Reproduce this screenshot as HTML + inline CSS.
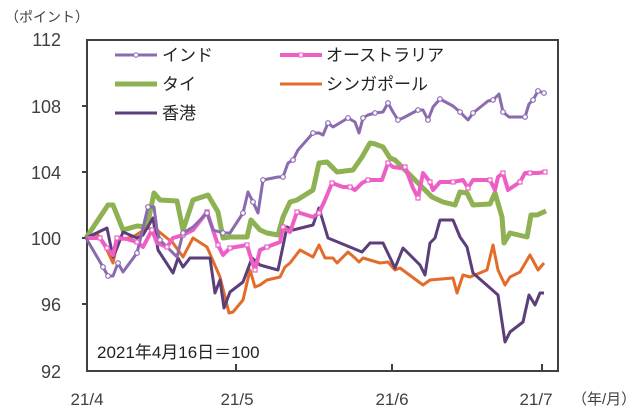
<!DOCTYPE html>
<html><head><meta charset="utf-8"><style>body{margin:0;background:#fff}</style></head><body>
<svg width="640" height="414" xmlns="http://www.w3.org/2000/svg" font-family="Liberation Sans, Noto Sans CJK JP, sans-serif" fill="#404040">
<rect x="0" y="0" width="640" height="414" fill="#fff"/>
<text x="5" y="22" font-size="14">（ポイント）</text>
<g font-size="18" text-anchor="end">
<text x="61" y="46">112</text><text x="61" y="113">108</text><text x="61" y="179">104</text><text x="61" y="245">100</text><text x="61" y="311">96</text><text x="61" y="378">92</text>
</g>
<g font-size="17" text-anchor="middle">
<text x="87" y="405">21/4</text><text x="237" y="405">21/5</text><text x="392" y="405">21/6</text><text x="536" y="405">21/7</text>
</g>
<text x="572" y="404" font-size="15">（年/月）</text>
<g stroke="#404040" stroke-width="2">
<rect x="87" y="40" width="471" height="331" fill="none"/>
<line x1="87" y1="106" x2="82" y2="106"/><line x1="87" y1="172" x2="82" y2="172"/><line x1="87" y1="238" x2="82" y2="238"/><line x1="87" y1="304" x2="82" y2="304"/>
<line x1="236" y1="371" x2="236" y2="364"/><line x1="392" y1="371" x2="392" y2="364"/><line x1="542" y1="371" x2="542" y2="364"/>
</g>
<text x="97" y="358" font-size="17" fill="#222">2021年4月16日＝100</text>
<g fill="none" stroke-linejoin="round">
<polyline stroke="#8EB153" stroke-width="5" points="86,238 108,205 113,205 123,230 137,226 147,227 154,193 160,200 177,201 183,230 193,200 208,195 218,212 223,238 230,237 247,237 251,220 260,230 267,233 278,235 283,217 290,202 297,200 313,190 319,163 327,162 337,172 353,170 362,157 370,143 375,144 383,147 390,158 395,160 420,185 432,197 443,202 455,205 460,192 467,193 473,205 490,204 495,193 502,217 504,243 510,233 527,237 531,215 537,215 546,211"/>
<polyline stroke="#E36C2A" stroke-width="3" points="86,238 98,235 107,250 113,263 118,240 133,237 147,228 157,230 173,243 183,257 193,238 207,247 220,277 229,313 233,312 243,300 250,270 255,287 260,285 267,280 280,277 285,267 290,263 300,250 313,257 319,245 325,258 333,258 337,263 348,252 355,258 359,262 363,258 380,263 388,262 395,270 400,268 423,285 430,280 453,278 457,293 463,275 470,277 487,270 493,245 498,270 505,285 510,277 520,272 530,255 538,270 544,263"/>
<polyline stroke="#5B3E7A" stroke-width="3" points="86,238 107,228 113,257 117,248 123,232 137,238 143,235 153,218 158,250 173,273 178,258 183,267 190,258 210,258 215,293 220,280 224,308 230,292 243,282 252,258 260,265 267,267 278,270 287,227 293,230 313,225 319,208 328,238 362,252 370,243 383,243 395,268 403,248 420,265 425,275 430,243 435,238 440,220 453,220 460,237 467,247 473,273 498,295 505,342 510,332 523,322 529,295 535,305 540,293 544,293"/>
<polyline id="au" stroke="#EE5FC6" stroke-width="4" points="86,238 100,238 107,248 113,255 117,238 127,239 137,242 143,247 152,230 157,243 167,247 173,238 183,235 193,230 207,212 213,230 218,245 223,255 230,248 247,245 251,258 255,270 260,250 267,247 280,242 283,227 290,232 297,212 313,217 319,213 325,200 332,183 343,187 350,187 355,190 362,183 368,180 382,180 388,163 393,167 400,168 405,167 413,188 418,198 423,173 430,182 433,190 440,182 453,182 463,180 468,188 473,180 490,180 495,190 498,177 503,173 508,190 520,182 525,173 530,173 538,173 545,172"/>
<polyline stroke="#8A6BB0" stroke-width="3" points="86,238 103,267 108,276 113,276 118,263 123,272 137,253 148,207 154,207 157,230 160,240 177,257 183,233 193,227 207,213 213,230 223,233 230,233 243,213 248,192 253,202 258,213 263,180 278,177 283,177 288,163 293,160 298,150 313,133 319,133 323,135 328,123 333,127 348,118 355,122 359,133 363,118 368,115 375,113 383,112 388,103 393,112 398,120 403,118 418,110 423,110 428,120 433,107 440,99 453,106 460,112 468,120 473,113 488,101 493,100 499,94 503,112 509,117 525,117 529,104 533,100 538,91 544,93"/>
</g>
<g fill="#fff" stroke="#EE5FC6" stroke-width="1.2">
<rect x="98" y="236" width="4" height="4"/><rect x="105" y="246" width="4" height="4"/><rect x="115" y="236" width="4" height="4"/><rect x="135" y="240" width="4" height="4"/><rect x="150" y="228" width="4" height="4"/><rect x="165" y="245" width="4" height="4"/><rect x="181" y="233" width="4" height="4"/><rect x="205" y="210" width="4" height="4"/><rect x="216" y="243" width="4" height="4"/><rect x="228" y="246" width="4" height="4"/><rect x="245" y="243" width="4" height="4"/><rect x="253" y="268" width="4" height="4"/><rect x="265" y="245" width="4" height="4"/><rect x="281" y="225" width="4" height="4"/><rect x="295" y="210" width="4" height="4"/><rect x="317" y="211" width="4" height="4"/><rect x="330" y="181" width="4" height="4"/><rect x="348" y="185" width="4" height="4"/><rect x="366" y="178" width="4" height="4"/><rect x="386" y="161" width="4" height="4"/><rect x="403" y="165" width="4" height="4"/><rect x="416" y="196" width="4" height="4"/><rect x="428" y="180" width="4" height="4"/><rect x="451" y="180" width="4" height="4"/><rect x="466" y="186" width="4" height="4"/><rect x="488" y="178" width="4" height="4"/><rect x="501" y="171" width="4" height="4"/><rect x="518" y="180" width="4" height="4"/><rect x="528" y="171" width="4" height="4"/><rect x="543" y="170" width="4" height="4"/>
</g>
<g fill="#fff" stroke="#8A6BB0" stroke-width="1.2">
<circle cx="103" cy="267" r="2.3"/><circle cx="108" cy="276" r="2.3"/><circle cx="118" cy="263" r="2.3"/><circle cx="137" cy="253" r="2.3"/><circle cx="148" cy="207" r="2.3"/><circle cx="160" cy="240" r="2.3"/><circle cx="183" cy="233" r="2.3"/><circle cx="207" cy="213" r="2.3"/><circle cx="223" cy="233" r="2.3"/><circle cx="243" cy="213" r="2.3"/><circle cx="253" cy="202" r="2.3"/><circle cx="263" cy="180" r="2.3"/><circle cx="283" cy="177" r="2.3"/><circle cx="293" cy="160" r="2.3"/><circle cx="313" cy="133" r="2.3"/><circle cx="328" cy="123" r="2.3"/><circle cx="348" cy="118" r="2.3"/><circle cx="363" cy="118" r="2.3"/><circle cx="375" cy="113" r="2.3"/><circle cx="388" cy="103" r="2.3"/><circle cx="398" cy="120" r="2.3"/><circle cx="418" cy="110" r="2.3"/><circle cx="428" cy="120" r="2.3"/><circle cx="440" cy="99" r="2.3"/><circle cx="460" cy="112" r="2.3"/><circle cx="473" cy="113" r="2.3"/><circle cx="493" cy="100" r="2.3"/><circle cx="503" cy="112" r="2.3"/><circle cx="525" cy="117" r="2.3"/><circle cx="533" cy="100" r="2.3"/><circle cx="538" cy="91" r="2.3"/><circle cx="544" cy="93" r="2.3"/>
</g>
<g font-size="17" fill="#222">
<line x1="115" y1="55" x2="157" y2="55" stroke="#8A6BB0" stroke-width="3"/><circle cx="136" cy="55" r="2.3" fill="#fff" stroke="#8A6BB0"/>
<text x="162" y="61">インド</text>
<line x1="280" y1="55" x2="322" y2="55" stroke="#EE5FC6" stroke-width="4"/><rect x="299" y="53" width="4" height="4" fill="#fff" stroke="#EE5FC6"/>
<text x="326" y="61">オーストラリア</text>
<line x1="115" y1="84" x2="157" y2="84" stroke="#8EB153" stroke-width="5"/>
<text x="162" y="90">タイ</text>
<line x1="280" y1="84" x2="322" y2="84" stroke="#E36C2A" stroke-width="3"/>
<text x="326" y="90">シンガポール</text>
<line x1="115" y1="113" x2="157" y2="113" stroke="#5B3E7A" stroke-width="3"/>
<text x="162" y="119">香港</text>
</g>
</svg>
</body></html>
